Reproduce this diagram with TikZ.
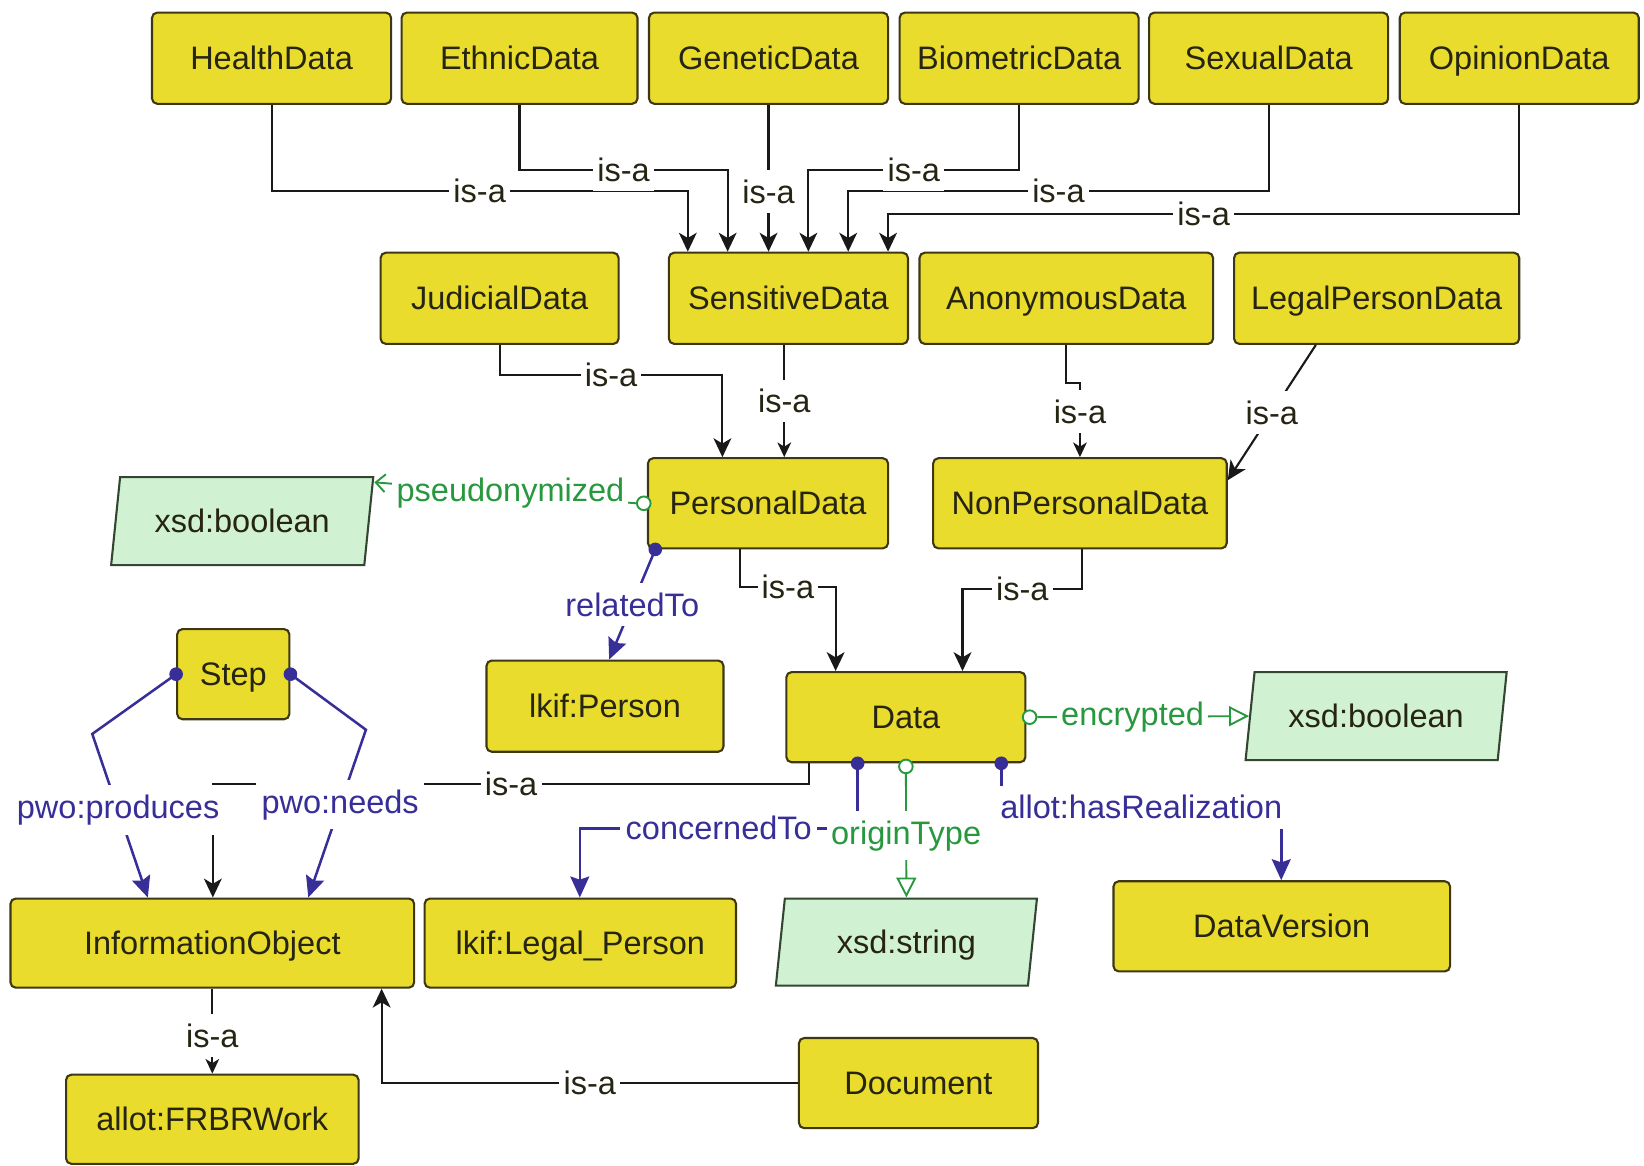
\documentclass[tikz,border=0pt]{standalone}
\usepackage{fontspec}
\setmainfont{Liberation Sans}
\usetikzlibrary{arrows.meta,shapes.geometric}
\definecolor{cyel}{RGB}{233,220,45}
\definecolor{cbord}{RGB}{62,56,18}
\definecolor{cgfill}{RGB}{208,242,210}
\definecolor{cgbord}{RGB}{50,70,50}
\definecolor{cgreen}{RGB}{40,152,62}
\definecolor{cblue}{RGB}{56,46,152}
\definecolor{cline}{RGB}{25,25,25}
\definecolor{ctext}{RGB}{38,36,18}
\tikzset{
  fnt/.style={font=\fontsize{31}{37}\selectfont},
  cls/.style={fnt, rectangle, rounded corners=5pt, draw=cbord, line width=2pt, fill=cyel, text=ctext, inner sep=0pt, minimum height=86pt, text height=25pt, text depth=3pt},
  dtype/.style={fnt, trapezium, trapezium left angle=73, trapezium right angle=107, trapezium stretches body=true, draw=cgbord, line width=2pt, fill=cgfill, text=ctext, inner sep=0pt, minimum height=84pt, minimum width=250pt, text height=25pt, text depth=3pt},
  lbl/.style={fnt, fill=white, inner xsep=4pt, inner ysep=9pt, text=ctext},
  blbl/.style={lbl, inner xsep=5pt, text=cblue},
  glbl/.style={lbl, text=cgreen},
  isa/.style={draw=cline, line width=2pt, -{Stealth[length=18pt,width=17pt,inset=5pt]}},
  isas/.style={draw=cline, line width=2pt, -{Stealth[length=14pt,width=13pt,inset=4pt]}},
  objp/.style={draw=cblue, line width=2.4pt, -{Stealth[length=20pt,width=18pt,inset=3pt]}},
  datp/.style={draw=cgreen, line width=1.8pt},
  dtip/.style={-{Triangle[length=19pt,width=19pt,fill=white]}},
  bdot/.style={circle, fill=cblue, inner sep=0pt, minimum size=13pt},
  gcirc/.style={circle, draw=cgreen, line width=1.8pt, fill=white, inner sep=0pt, minimum size=13pt},
}
\begin{document}
\begin{tikzpicture}[x=1pt,y=-1pt]
\useasboundingbox (0,0) rectangle (1568,1112);
\fill[white] (0,0) rectangle (1568,1112);
% nodes
\node[cls, minimum width=228pt, minimum height=87pt] (hd) at (259,55.5) {HealthData};
\node[cls, minimum width=225pt, minimum height=87pt] (ed) at (495.5,55.5) {EthnicData};
\node[cls, minimum width=228pt, minimum height=87pt] (gd) at (733,55.5) {GeneticData};
\node[cls, minimum width=228pt, minimum height=87pt] (bd) at (972,55.5) {BiometricData};
\node[cls, minimum width=228pt, minimum height=87pt] (sx) at (1210,55.5) {SexualData};
\node[cls, minimum width=228pt, minimum height=87pt] (od) at (1449,55.5) {OpinionData};
\node[cls, minimum width=227pt, minimum height=87pt] (jd) at (476.5,284.5) {JudicialData};
\node[cls, minimum width=228pt, minimum height=87pt] (sd) at (752,284.5) {SensitiveData};
\node[cls, minimum width=280pt, minimum height=87pt] (ad) at (1017,284.5) {AnonymousData};
\node[cls, minimum width=272pt, minimum height=87pt] (lp) at (1313,284.5) {LegalPersonData};
\node[dtype] (xb1) at (231,497) {xsd:boolean};
\node[cls, minimum width=229pt] (pd) at (732.5,480) {PersonalData};
\node[cls, minimum width=280pt] (np) at (1030,480) {NonPersonalData};
\node[cls, minimum width=107pt] (st) at (222.5,643) {Step};
\node[cls, minimum width=226pt, minimum height=87pt] (lk) at (577,673.5) {lkif:Person};
\node[cls, minimum width=228pt] (da) at (864,684) {Data};
\node[dtype, minimum width=249pt] (xb2) at (1312.5,683) {xsd:boolean};
\node[cls, minimum width=385pt, minimum height=85pt] (io) at (202.5,899.5) {InformationObject};
\node[cls, minimum width=297pt, minimum height=85pt] (lg) at (553.5,899.5) {lkif:Legal\_Person};
\node[dtype, minimum width=249pt, minimum height=83pt] (xs) at (864.5,898.5) {xsd:string};
\node[cls, minimum width=321pt] (dv) at (1222.5,883.5) {DataVersion};
\node[cls, minimum width=228pt] (doc) at (876,1033) {Document};
\node[cls, minimum width=279pt, minimum height=85pt] (fr) at (202.5,1067.5) {allot:FRBRWork};
% is-a edges to SensitiveData
\draw[isa] (hd.south) -- (hd.south |- 0,182) -- node[lbl]{is-a} (656,182) -- (sd.north -| 656,0);
\draw[isa] (sx.south) -- (sx.south |- 0,182) -- node[lbl]{is-a} (809,182) -- (sd.north -| 809,0);
\draw[isa] (od.south) -- (od.south |- 0,204) -- node[lbl]{is-a} (847,204) -- (sd.north -| 847,0);
\draw[isa] (gd.south) -- node[lbl,pos=0.59]{is-a} (sd.north -| gd.south);
\draw[isa] (ed.south) -- (ed.south |- 0,162) -- node[lbl]{is-a} (694,162) -- (sd.north -| 694,0);
\draw[isa] (bd.south) -- (bd.south |- 0,162) -- node[lbl]{is-a} (771,162) -- (sd.north -| 771,0);
% is-a to Personal / NonPersonal
\draw[isa] (jd.south) -- (jd.south |- 0,358) -- node[lbl]{is-a} (689,358) -- (pd.north -| 689,0);
\draw[isas] (sd.south -| 748,0) -- node[lbl]{is-a} (pd.north -| 748,0);
\draw[isas] (ad.south) -- (ad.south |- 0,365) -- (1030,365) -- node[lbl,pos=0.39]{is-a} (np.north -| 1030,0);
\draw[isa] (lp.south -| 1255,0) -- node[lbl]{is-a} (np.east |- 0,458);
% is-a to Data, InformationObject
\draw[isa] (pd.south -| 706,0) -- (706,560) -- node[lbl]{is-a} (797,560) -- (da.north -| 797,0);
\draw[isa] (np.south -| 1032,0) -- (1032,562) -- node[lbl]{is-a} (918,562) -- (da.north -| 918,0);
\draw[isa] (da.south -| 772,0) -- (772,748) -- node[lbl]{is-a} (203,748) -- (io.north -| 203,0);
\draw[isas] (io.south) -- node[lbl,pos=0.55]{is-a} (fr.north);
\draw[isa] (doc.west) -- node[lbl]{is-a} (doc.west -| 364,0) -- (io.south -| 364,0);
% object properties
\node[bdot] (dr) at (pd.south -| 625,0) {};
\draw[objp] (dr.center) -- node[blbl]{relatedTo} (lk.north -| 581,0);
\node[bdot] (dp) at (st.west) {};
\draw[objp] (dp.center) -- (88,700) -- node[blbl,pos=0.465]{pwo:produces} (io.north -| 141,0);
\node[bdot] (dn) at (st.east) {};
\draw[objp] (dn.center) -- (349,696) -- node[blbl,pos=0.447]{pwo:needs} (io.north -| 294,0);
\node[bdot] (dc) at (da.south -| 818,0) {};
\draw[objp] (dc.center) -- (818,790) -- node[blbl]{concernedTo} (553,790) -- (lg.north -| 553,0);
\node[bdot] (dh) at (da.south -| 955,0) {};
\draw[objp] (dh.center) -- (955,770) -- node[blbl]{allot:hasRealization} (1222,770) -- (dv.north -| 1222,0);
% datatype properties
\node[gcirc] (cp) at ([xshift=-3pt]pd.west) {};
\draw[datp, -{Straight Barb[length=9pt,width=17pt]}] (cp.west) -- node[glbl,pos=0.48]{pseudonymized} ([yshift=-6pt]xb1.top right corner);
\node[gcirc] (ce) at ([xshift=3pt]da.east) {};
\draw[datp, dtip] (ce.east) -- node[glbl,pos=0.45]{encrypted} (xb2.west);
\node[gcirc] (co) at ([yshift=-3pt]da.south) {};
\draw[datp, dtip] (co.south) -- node[glbl]{originType} (xs.north);
\end{tikzpicture}
\end{document}
